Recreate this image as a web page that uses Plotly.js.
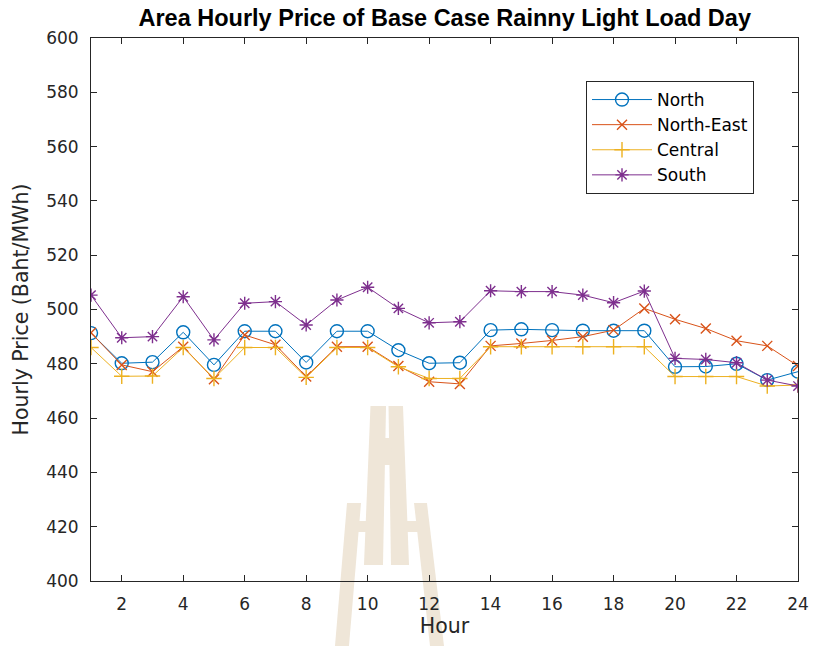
<!DOCTYPE html>
<html>
<head>
<meta charset="utf-8">
<script src="https://cdn.plot.ly/plotly-3.0.1.min.js"></script>
<style>html,body{margin:0;padding:0;background:#fff;}#chart{width:813px;height:646px;}</style>
</head>
<body>
<div id="chart"></div>
<script>
const hours = [1,2,3,4,5,6,7,8,9,10,11,12,13,14,15,16,17,18,19,20,21,22,23,24];
const northPrice = [491.3,480.2,480.6,491.6,479.6,492.0,492.0,480.5,492.0,492.0,485.0,480.2,480.4,492.4,492.7,492.4,492.2,492.2,492.2,478.9,479.0,480.0,474.0,477.1];
const northEastPrice = [491.4,479.6,477.1,486.3,474.3,490.6,487.0,475.3,486.3,486.3,479.2,473.4,472.6,486.6,487.5,488.6,490.0,492.4,500.4,496.4,493.0,488.5,486.6,479.2];
const centralPrice = [486.0,475.4,475.5,486.0,474.6,486.0,486.0,475.0,486.0,486.0,478.9,474.6,474.6,486.3,486.3,486.3,486.3,486.3,486.3,475.3,475.3,475.3,471.8,472.2];
const southPrice = [505.3,489.6,490.0,504.7,488.8,502.3,502.9,494.3,503.5,508.2,500.4,495.1,495.5,506.9,506.6,506.6,505.3,502.5,506.8,482.0,481.6,480.4,474.0,471.8];
const seriesNames = ["North","North-East","Central","South"];
const yTicks = [400,420,440,460,480,500,520,540,560,580,600];
const xTicks = [2,4,6,8,10,12,14,16,18,20,22,24];

const colors = ["#0072BD","#D95319","#EDB120","#7E2F8E"];
const symbols = ["circle-open","x-thin-open","cross-thin-open","asterisk-open"];
const sizes = [13,10,11,11];
const values = [northPrice,northEastPrice,centralPrice,southPrice];

const traces = values.map((v,i)=>({
  x: hours, y: v, name: seriesNames[i], type: "scatter", mode: "lines+markers",
  line: {color: colors[i], width: 1},
  marker: {symbol: symbols[i], size: sizes[i], color: colors[i], line: {color: colors[i], width: 1.4}}
}));

// decorative watermark (page background logo), pixel -> paper helpers
const W = 813, H = 646, L = 91, R = 15, T = 38, B = 65;
const pw = W - L - R, ph = H - T - B;
const px = x => (x - L) / pw;
const py = y => (H - B - y) / ph;
const wm = "rgb(239,230,216)";
function poly(pts){
  return {type:"path", xref:"paper", yref:"paper", layer:"below", fillcolor:wm, line:{width:0},
    path: "M" + pts.map(p => px(p[0]).toFixed(4) + "," + py(p[1]).toFixed(4)).join("L") + "Z"};
}
const shapes = [
  poly([[347,503],[361,503],[349,646],[335,646]]),
  poly([[414,503],[427,503],[444,646],[430,646]]),
  poly([[370.5,406],[386,406],[383,565],[364,565]]),
  poly([[388.5,406],[403,406],[409,565],[391,565]]),
  poly([[384,438],[391,438],[392,465],[384,465]]),
  poly([[358,521],[368,521],[368,532],[357,532]]),
  poly([[404,521],[418,521],[419,532],[405,532]])
];

const fontFam = "'DejaVu Sans', sans-serif";
const titleFam = "Arial, 'Liberation Sans', sans-serif";
const layout = {
  width: W, height: H,
  margin: {l: L, r: R, t: T, b: B},
  paper_bgcolor: "#ffffff", plot_bgcolor: "rgba(0,0,0,0)",
  font: {family: fontFam, color: "#262626"},
  title: {text: "<b>Area Hourly Price of Base Case Rainny Light Load Day</b>", font: {size: 23.5, color: "#000000", family: titleFam},
          x: 0.547, xanchor: "center", y: 0.972, yanchor: "middle"},
  xaxis: {range: [1,24], tickvals: xTicks, ticktext: xTicks.map(String), ticks: "inside", ticklen: 6, tickwidth: 1,
          tickcolor: "#262626", showline: true, linecolor: "#262626", linewidth: 1, mirror: "ticks",
          showgrid: false, zeroline: false, tickfont: {size: 17, color: "#262626"}, ticklabelstandoff: 8,
          title: {text: "Hour", font: {size: 20.5, color: "#262626"}, standoff: 4}},
  yaxis: {range: [400,600], tickvals: yTicks, ticks: "inside", ticklen: 6, tickwidth: 1,
          tickcolor: "#262626", showline: true, linecolor: "#262626", linewidth: 1, mirror: "ticks",
          showgrid: false, zeroline: false, tickfont: {size: 17, color: "#262626"}, ticklabelstandoff: 8,
          title: {text: "Hourly Price (Baht/MWh)", font: {size: 20.5, color: "#262626"}, standoff: 11}},
  legend: {x: px(586), y: py(81), xanchor: "left", yanchor: "top", bgcolor: "#ffffff",
           bordercolor: "#262626", borderwidth: 1, font: {size: 17, color: "#000000"}, itemwidth: 60,
           tracegroupgap: 0},
  shapes: shapes,
  showlegend: true
};
Plotly.newPlot("chart", traces, layout, {displayModeBar: false, staticPlot: true});
</script>
</body>
</html>
